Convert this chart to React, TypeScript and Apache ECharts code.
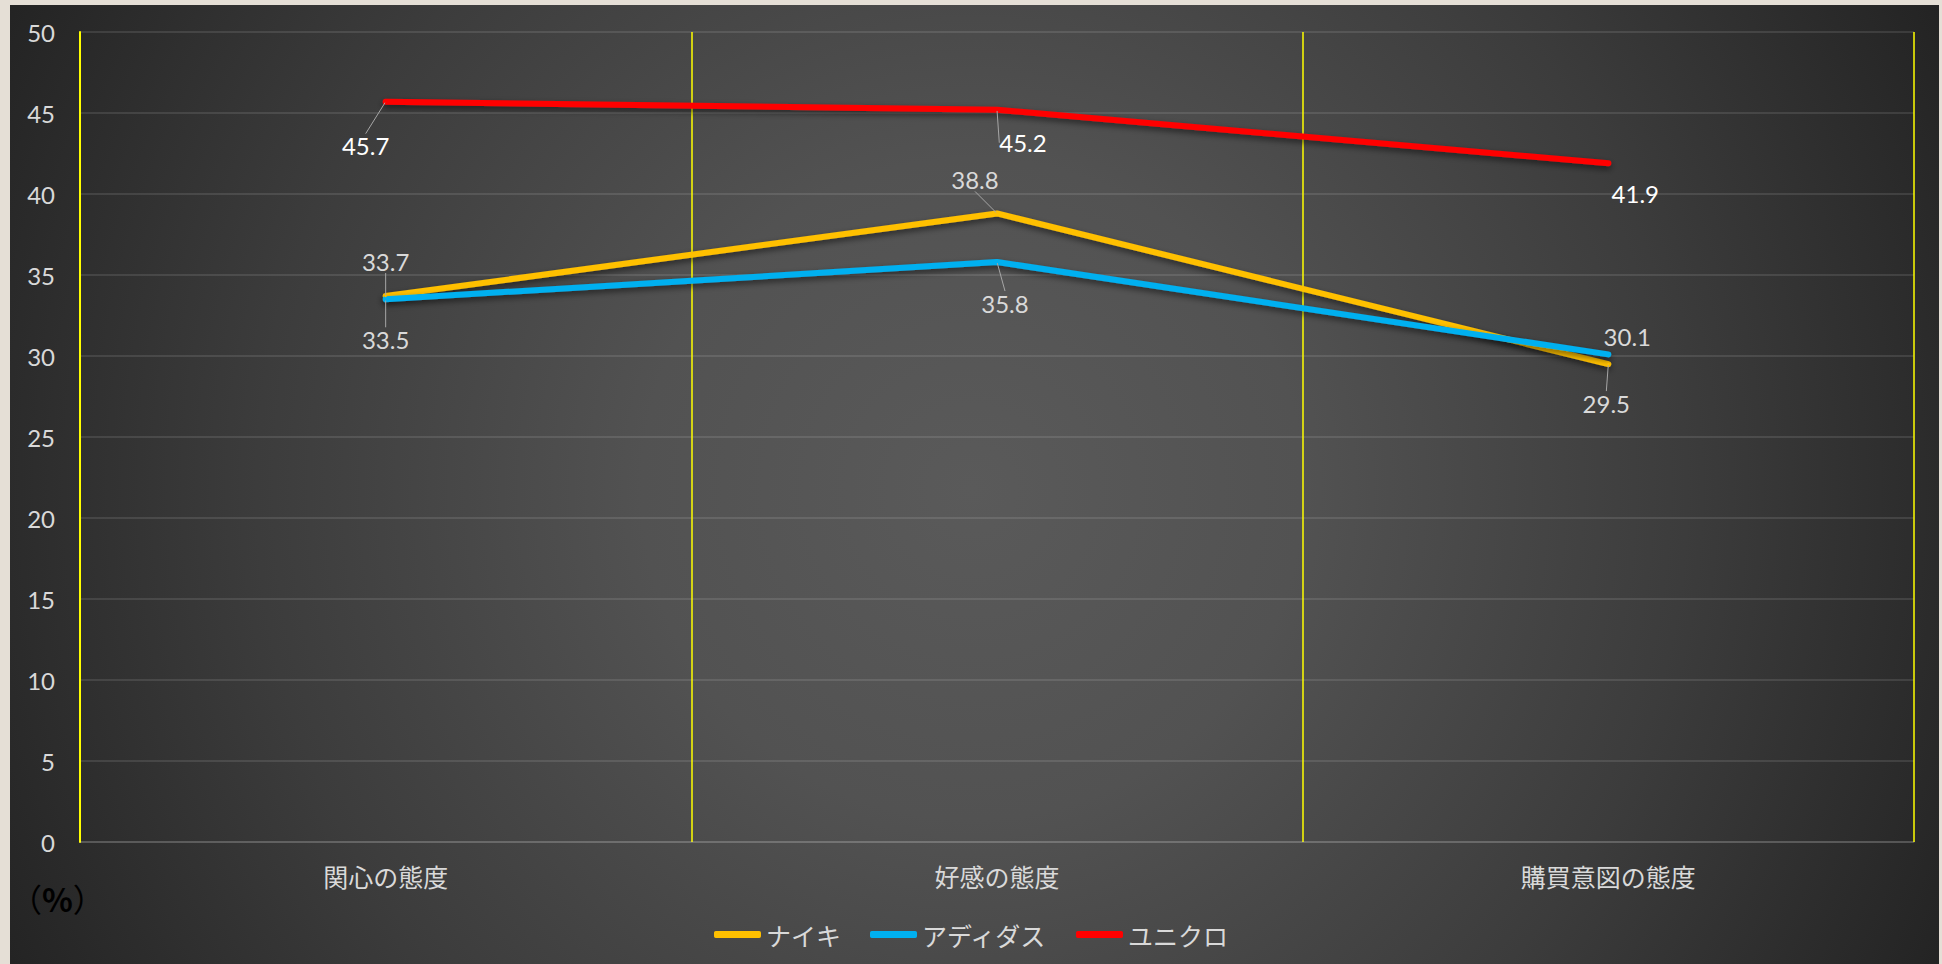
import React, { useEffect, useRef } from 'react';
import * as echarts from 'echarts';

// ---- data ----
const categories = ['関心の態度', '好感の態度', '購買意図の態度'];
const seriesNames = ['ナイキ', 'アディダス', 'ユニクロ'];
const nikeValues = [33.7, 38.8, 29.5];
const adidasValues = [33.5, 35.8, 30.1];
const uniqloValues = [45.7, 45.2, 41.9];
const yMin = 0;
const yMax = 50;
const yInterval = 5;
const unitLabel = '%';

// ---- styles ----
const seriesColors = ['#ffc000', '#00b0f0', '#ff0000'];
const labelColors = ['#d9d9d9', '#d9d9d9', '#ffffff'];
// label offsets (dx, dy) from each point, per series
const labelOffsets = [
  [[0, -35], [-22, -34], [-2, 39]],
  [[0, 40], [8, 41], [19, -18]],
  [[-20, 44], [26, 33], [27, 30]],
];
const leaderShown = [
  [true, true, true],
  [true, true, false],
  [true, true, false],
];

export default function App() {
  const ref = useRef<HTMLDivElement>(null);

  useEffect(() => {
    document.body.style.margin = '0';
    document.body.style.overflow = 'hidden';
    if (!ref.current) return;
    const chart = echarts.init(ref.current, null, { renderer: 'svg' });
    const allValues = [nikeValues, adidasValues, uniqloValues];

    const series = allValues.map((vals, si) => ({
      name: seriesNames[si],
      type: 'line',
      data: vals.map((v, di) => ({
        value: v,
        labelLine: { show: leaderShown[si][di] },
      })),
      symbol: 'circle',
      symbolSize: 2,
      showSymbol: true,
      itemStyle: { color: seriesColors[si] },
      lineStyle: {
        color: seriesColors[si],
        width: 6,
        cap: 'round',
        join: 'round',
        shadowColor: 'rgba(0,0,0,0.55)',
        shadowBlur: 6,
        shadowOffsetY: 3,
      },
      label: {
        show: true,
        position: 'inside',
        color: labelColors[si],
        fontSize: 24,
        fontFamily: 'Lato',
        formatter: (p: any) => p.value.toFixed(1),
      },
      labelLine: {
        show: true,
        lineStyle: { color: '#a6a6a6', width: 1 },
      },
      labelLayout: (params: any) => {
        const o = labelOffsets[si][params.dataIndex];
        return { dx: o[0], dy: o[1] };
      },
      emphasis: { disabled: true },
      z: 3,
    }));

    chart.setOption({
      animation: false,
      backgroundColor: '#e5dfd6',
      textStyle: { fontFamily: "Lato, 'Noto Sans CJK JP'" },
      graphic: [
        {
          type: 'rect',
          z: -10,
          silent: true,
          shape: { x: 10, y: 5, width: 1929, height: 962 },
          style: {
            fill: new echarts.graphic.RadialGradient(
              972,
              489,
              1100,
              [
                { offset: 0, color: '#5a5a5a' },
                { offset: 0.3, color: '#525252' },
                { offset: 0.65, color: '#3c3c3c' },
                { offset: 1, color: '#222222' },
              ],
              true
            ),
          },
        },
        {
          type: 'text',
          left: 10,
          top: 882,
          style: {
            text: '{p|（}{b|' + unitLabel + '}{p|）}',
            rich: {
              p: { fontSize: 32, color: '#f2f2f2', fontFamily: 'Noto Sans CJK JP' },
              b: { fontSize: 32, color: '#f2f2f2', fontWeight: 'bold', fontFamily: 'Noto Sans CJK JP' },
            },
          },
        },
      ],
      grid: { left: 80, right: 28, top: 32, bottom: 122, containLabel: false },
      legend: {
        data: seriesNames,
        left: 'center',
        top: 917,
        icon: 'roundRect',
        itemWidth: 47,
        itemHeight: 7,
        itemGap: 29,
        textStyle: { color: '#d9d9d9', fontSize: 25, fontFamily: 'Noto Sans CJK JP' },
        selectedMode: false,
      },
      xAxis: {
        type: 'category',
        data: categories,
        boundaryGap: true,
        axisTick: { show: false },
        axisLine: { show: true, lineStyle: { color: 'rgba(255,255,255,0.16)', width: 1.5 } },
        splitLine: { show: true, lineStyle: { color: '#ffff00', width: 1.5 } },
        axisLabel: {
          color: '#d9d9d9',
          fontSize: 25,
          fontFamily: 'Noto Sans CJK JP',
          margin: 21,
        },
      },
      yAxis: {
        type: 'value',
        min: yMin,
        max: yMax,
        interval: yInterval,
        axisLine: { show: true, lineStyle: { color: '#ffff00', width: 2 } },
        axisTick: { show: false },
        splitLine: { show: true, lineStyle: { color: 'rgba(255,255,255,0.14)', width: 1.5 } },
        axisLabel: { color: '#d9d9d9', fontSize: 24, fontFamily: 'Lato', margin: 25 },
      },
      series,
    });

    return () => chart.dispose();
  }, []);

  return <div ref={ref} style={{ width: 1942, height: 964 }} />;
}
